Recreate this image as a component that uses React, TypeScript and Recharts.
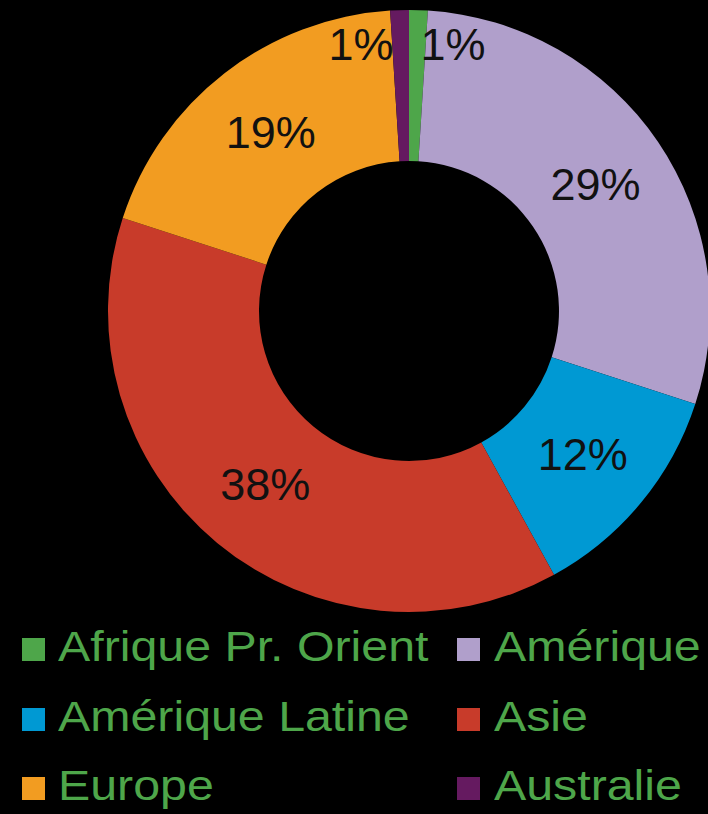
import React from "react";
import { PieChart, Pie, Cell } from "recharts";

const regions = ["Afrique Pr. Orient", "Amérique", "Amérique Latine", "Asie", "Europe", "Australie"];
const shares = [1, 29, 12, 38, 19, 1];
const colors = ["#4ea64a", "#b09fcb", "#0099d3", "#c83b2a", "#f29c21", "#651a60"];

const data = regions.map((name, i) => ({ name, value: shares[i] }));

const RAD = Math.PI / 180;
const FONT = "'Liberation Sans', Arial, sans-serif";

const renderLabel = (props: any) => {
  const { cx, cy, midAngle, innerRadius, outerRadius, percent, value } = props;
  let x: number;
  let y: number;
  let anchor: "middle" | "start" | "end" = "middle";
  if (percent < 0.02) {
    const r = outerRadius - 34;
    x = cx + r * Math.cos(-midAngle * RAD);
    y = cy + r * Math.sin(-midAngle * RAD);
    if (x < cx) {
      anchor = "end";
      x -= 7;
    } else {
      anchor = "start";
      x += 3;
    }
  } else {
    const r = (innerRadius + outerRadius) / 2;
    x = cx + r * Math.cos(-midAngle * RAD);
    y = cy + r * Math.sin(-midAngle * RAD);
  }
  return (
    <text
      x={x}
      y={y}
      textAnchor={anchor}
      dominantBaseline="central"
      fill="#111111"
      fontSize={45}
      fontFamily={FONT}
    >
      {`${value}%`}
    </text>
  );
};

export default function App() {
  return (
    <div
      style={{
        position: "fixed",
        left: 0,
        top: 0,
        width: 708,
        height: 814,
        background: "#000000",
        overflow: "hidden",
      }}
    >
      <PieChart
        width={708}
        height={814}
        margin={{ top: 0, right: 0, bottom: 0, left: 0 }}
        style={{ position: "absolute", left: 0, top: 0 }}
      >
        <Pie
          data={data}
          dataKey="value"
          nameKey="name"
          cx={409}
          cy={311}
          innerRadius={150}
          outerRadius={301}
          startAngle={90}
          endAngle={-270}
          stroke="none"
          label={renderLabel}
          labelLine={false}
          isAnimationActive={false}
        >
          {data.map((d, i) => (
            <Cell key={d.name} fill={colors[i]} />
          ))}
        </Pie>
      </PieChart>
      {regions.map((name, i) => {
        const col = i % 2;
        const row = Math.floor(i / 2);
        const sqLeft = col === 0 ? 22 : 457;
        const textLeft = col === 0 ? 58 : 494;
        const sqTop = 638 + row * 69.5;
        const textTop = 626 + row * 69.5;
        return (
          <React.Fragment key={name}>
            <div
              style={{
                position: "absolute",
                left: sqLeft,
                top: sqTop,
                width: 23,
                height: 23,
                background: colors[i],
              }}
            />
            <div
              style={{
                position: "absolute",
                left: textLeft,
                top: textTop,
                fontSize: 42,
                lineHeight: "42px",
                fontFamily: FONT,
                color: "#4ea64a",
                whiteSpace: "nowrap",
                transform: "scaleX(1.15)",
                transformOrigin: "0 0",
              }}
            >
              {name}
            </div>
          </React.Fragment>
        );
      })}
    </div>
  );
}
